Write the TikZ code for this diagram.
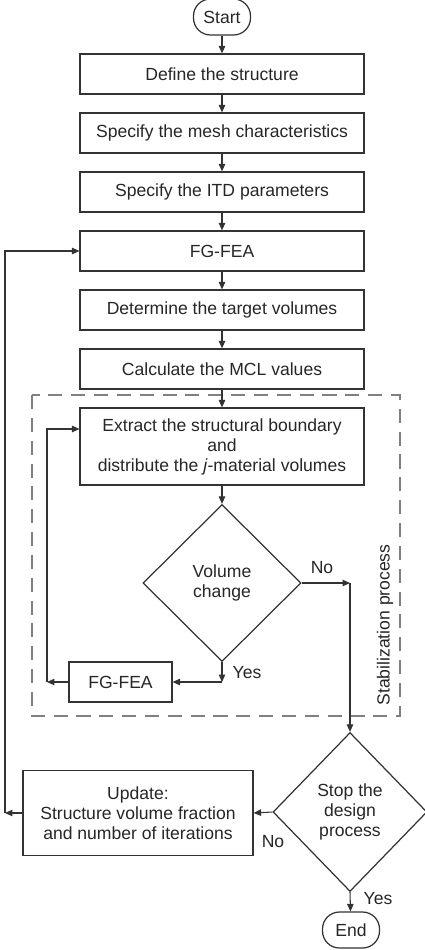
\documentclass[tikz,border=0pt]{standalone}
\usepackage{fontspec}
\setmainfont{Liberation Sans}
\usetikzlibrary{calc}
\usetikzlibrary{shapes.geometric}
\usetikzlibrary{arrows.meta}

\begin{document}
\begin{tikzpicture}[x=0.02cm,y=-0.02cm,font=\fontsize{10}{11.4}\selectfont]
	 \tikzstyle{process}=[draw=black!80,line width=0.7pt,text=black!85,minimum width=5.68cm,minimum height=0.8cm,inner sep=2pt,align=center]
	 \tikzstyle{terminal}=[draw=black!80,line width=0.7pt,text=black!85,rounded corners=0.34cm,minimum width=1.14cm,minimum height=0.72cm,inner sep=0pt]
	 \tikzstyle{decision}=[draw=black!80,line width=0.7pt,text=black!85,diamond,aspect=1,inner sep=0pt,align=center]
	 \tikzstyle{arrow} = [draw,line width=0.6pt,black!80,-{Triangle[length=1.5mm,width=1.3mm]}]
	 \tikzstyle{link} = [draw,line width=0.6pt,black!80]
	 \tikzstyle{label} = [text=black!85,inner sep=0pt]
	 \useasboundingbox (0,0) rectangle (424,950);
	 % stabilization frame
	 \draw[gray,line width=0.8pt,dash pattern=on 8pt off 5pt] (32,395) rectangle (400,716);
	 \node[label,rotate=90] (stab) at (385,625) {Stabilization process};
	 \node[terminal] (start) at (222,17) {Start};
	 \node[process] (define) at (222,74) {Define the structure};
	 \node[process] (mesh) at (222,133) {Specify the mesh characteristics};
	 \node[process] (itd) at (222,192) {Specify the ITD parameters};
	 \node[process] (fea) at (222,251) {FG-FEA};
	 \node[process] (target) at (222,310) {Determine the target volumes};
	 \node[process] (mcl) at (222,369) {Calculate the MCL values};
	 \node[process,minimum height=1.54cm] (extract) at (222,446.5) {Extract the structural boundary\\and\\distribute the \textit{j}-material volumes};
	 \node[decision,minimum width=3.16cm,minimum height=3.14cm] (volume) at (222,583) {Volume\\change};
	 \node[process,minimum width=2.06cm] (fea2) at (120.5,682) {FG-FEA};
	 \node[decision,minimum width=3.08cm,minimum height=3.18cm] (stop) at (350,812) {Stop the\\design\\process};
	 \node[process,minimum width=4.6cm,minimum height=1.7cm] (update) at (138,813) {Update:\\Structure volume fraction\\and number of iterations};
	 \node[terminal] (end) at (351,930) {End};
	 \node[label] (no1) at (322,568) {No};
	 \node[label] (yes1) at (247,673) {Yes};
	 \node[label] (no2) at (273,842) {No};
	 \node[label] (yes2) at (378,899) {Yes};
	 \coordinate (c1) at (47,682);
	 \coordinate (c2) at (47,429);
	 \coordinate (c3) at (5,813);
	 \coordinate (c4) at (350,583);
	 \coordinate (c5) at (222,682);
	 \draw[arrow] (start) -- (define);
	 \draw[arrow] (define) -- (mesh);
	 \draw[arrow] (mesh) -- (itd);
	 \draw[arrow] (itd) -- (fea);
	 \draw[arrow] (fea) -- (target);
	 \draw[arrow] (target) -- (mcl);
	 \draw[arrow] (mcl) -- (extract);
	 \draw[arrow] (extract) -- (volume);
	 \draw[arrow] (volume.south) -- (c5);
	 \draw[arrow] (c5) -- (fea2.east);
	 \draw[arrow] (fea2.west) -- (c1);
	 \draw[arrow] (c1) -- (c2) -- (c2 -| extract.west);
	 \draw[arrow] (volume.east) -- (c4);
	 \draw[arrow] (c4) -- (stop.north);
	 \draw[arrow] (stop.west) -- (update.east);
	 \draw[arrow] (update.west) -- (c3);
	 \draw[arrow] (c3) |- (fea.west);
	 \draw[arrow] (stop.south) -- (end);
\end{tikzpicture}
\end{document}
